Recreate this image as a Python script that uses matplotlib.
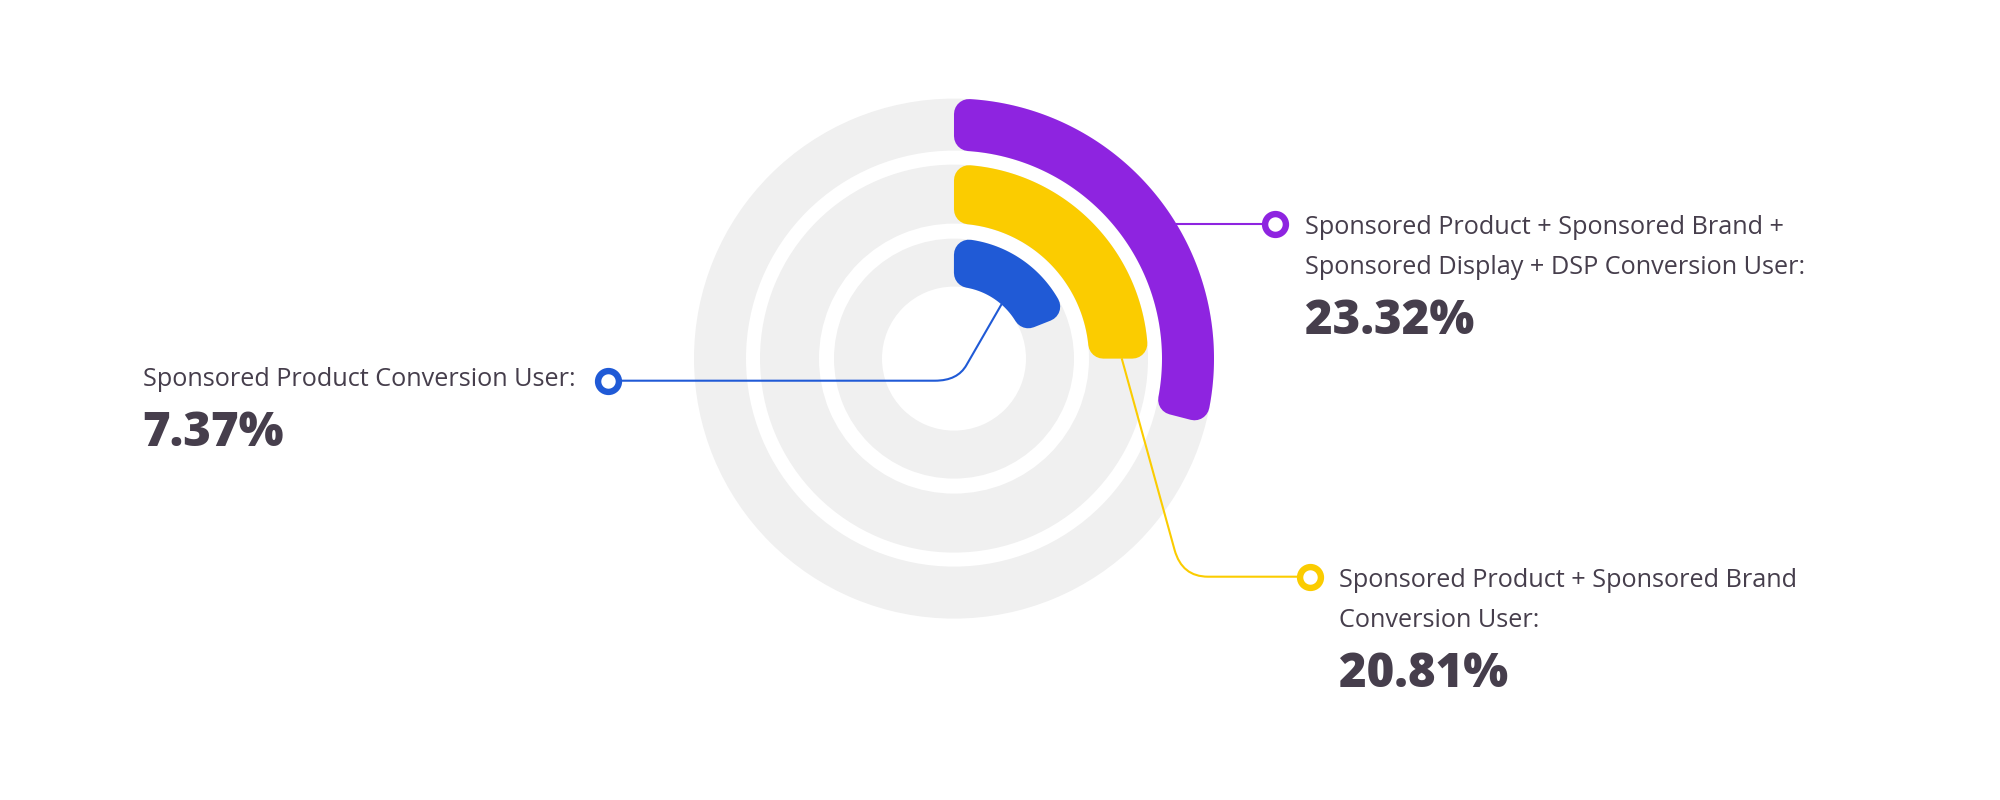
import numpy as np
import matplotlib.pyplot as plt
from matplotlib.path import Path
from matplotlib.patches import PathPatch

# data
labels = [
    "Sponsored Product Conversion User:",
    "Sponsored Product + Sponsored Brand\nConversion User:",
    "Sponsored Product + Sponsored Brand +\nSponsored Display + DSP Conversion User:",
]
values = [7.37, 20.81, 23.32]
arc_sweep = [68.5, 90.0, 104.5]   # degrees swept by each coloured arc (clockwise from top)
colors = ["#205AD6", "#FBCC00", "#8E24E0"]

# ring radii in pixels (inner, outer)
rings = [(72, 120), (135, 194), (208, 260)]
cx, cy = 954, 358.6
R = 270
rc = 15  # corner radius of the arcs
text_color = "#463E4C"
font = ["Open Sans", "DejaVu Sans"]

fig = plt.figure(figsize=(20, 8), dpi=100)
fig.patch.set_facecolor("white")

# polar axes for the rings
pax = fig.add_axes([(cx - R) / 2000, (800 - cy - R) / 800, 2 * R / 2000, 2 * R / 800],
                   projection="polar")
pax.set_theta_zero_location("N")
pax.set_theta_direction(-1)
pax.set_ylim(0, R)
pax.axis("off")

for (r0, r1), sweep, c in zip(rings, arc_sweep, colors):
    pax.bar(0, r1 - r0, width=2 * np.pi, bottom=r0, color="#F0F0F0", linewidth=0)
    # arc shrunk by the corner radius, then stroked with round joins
    ro, ri = r1 - rc, r0 + rc
    end = np.radians(sweep)
    t_out = np.linspace(rc / ro, end - rc / ro, 200)
    t_in = np.linspace(end - rc / ri, rc / ri, 200)
    th = np.concatenate([t_out, t_in])
    rr = np.concatenate([np.full(200, ro), np.full(200, ri)])
    poly = pax.fill(th, rr, facecolor=c, edgecolor=c, linewidth=2 * rc * 0.72)[0]
    poly.set_joinstyle("round")

# overlay in pixel coordinates for leader lines and labels
ax = fig.add_axes([0, 0, 1, 1])
ax.set_xlim(0, 2000)
ax.set_ylim(800, 0)
ax.axis("off")

# leader lines: start, corner in, corner control, corner out, marker
leaders = [
    [(1001.7, 304), (966.5, 365), (957.7, 380.7), (935, 380.7), (608.3, 380.7)],
    [(1121.7, 358.3), (1174.6, 550), (1182, 576.7), (1208, 576.7), (1310, 576.7)],
    [(1176.4, 224), None, None, None, (1275, 224)],
]
text_x = [142.7, 1339.3, 1305]
first_base = [386, 587, 234]

for pts, c, lab, val, tx, yb in zip(leaders, colors, labels, values, text_x, first_base):
    if pts[1] is None:
        verts = [pts[0], pts[4]]
        codes = [Path.MOVETO, Path.LINETO]
    else:
        verts = pts
        codes = [Path.MOVETO, Path.LINETO, Path.CURVE3, Path.CURVE3, Path.LINETO]
    ax.add_patch(PathPatch(Path(verts, codes), fill=False, edgecolor=c, linewidth=1.5))
    ax.plot(pts[4][0], pts[4][1], marker="o", ms=15, mew=4.6, mec=c, mfc="white")

    lines = lab.split("\n")
    for i, line in enumerate(lines):
        ax.text(tx, yb + 40 * i, line, fontsize=18.2, color=text_color,
                family=font, va="baseline", ha="left")
    ax.text(tx, yb + 40 * (len(lines) - 1) + 60, f"{val:.2f}%", fontsize=34,
            fontweight=800, color=text_color, family=font,
            va="baseline", ha="left")

fig.savefig("out.png", dpi=100)
